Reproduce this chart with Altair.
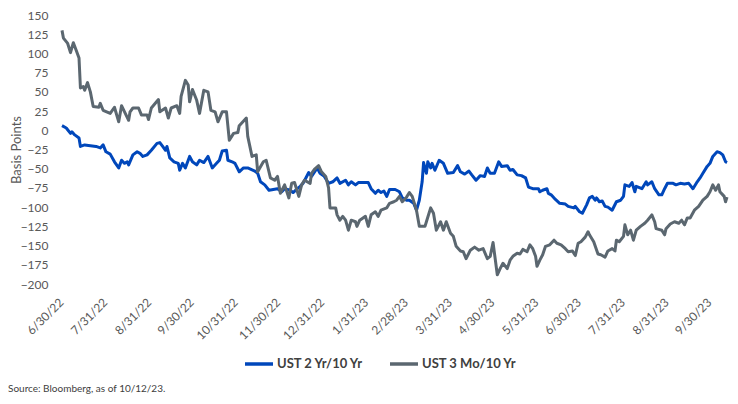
import altair as alt
import pandas as pd

# ---- data (days after 6/30/22, basis points) ----
start_date = "2022-06-30"
end_date = "2023-10-12"

days_2y10y = [0, 3, 6, 7, 9, 12, 13, 16, 20, 24, 27, 29, 31, 34, 37, 40, 42, 44, 46, 47,
              50, 53, 55, 57, 60, 63, 67, 69, 71, 73, 74, 76, 79, 82, 83, 85, 87, 90, 92, 95,
              97, 100, 103, 106, 109, 111, 113, 116, 117, 120, 122, 125, 128, 131, 136, 138, 140, 143, 146, 149,
              152, 155, 157, 161, 163, 166, 168, 170, 172, 174, 176, 180, 182, 185, 188, 191, 194, 196, 200, 202,
              204, 207, 209, 216, 218, 221, 223, 225, 227, 229, 231, 235, 238, 240, 243, 245, 248, 250, 252, 254,
              255, 257, 258, 260, 261, 263, 266, 269, 272, 276, 279, 281, 284, 287, 289, 292, 295, 298, 300, 302,
              305, 308, 310, 314, 316, 318, 321, 324, 327, 329, 332, 336, 337, 339, 342, 343, 345, 348, 351, 355,
              357, 361, 362, 365, 367, 370, 372, 374, 376, 377, 379, 381, 383, 385, 388, 391, 394, 396, 397, 400,
              402, 404, 405, 409, 412, 413, 416, 418, 421, 423, 425, 427, 431, 433, 436, 439, 442, 445, 448, 450,
              452, 455, 457, 459, 462, 464, 466, 468, 469]
bps_2y10y = [6, 3, -4, -2, -6, -10, -21, -19, -20, -21, -23, -19, -28, -31, -41, -49, -39, -43, -41, -45,
             -32, -28, -30, -34, -32, -26, -17, -16, -21, -26, -21, -36, -41, -43, -52, -43, -49, -34, -41, -45,
             -39, -42, -34, -49, -43, -39, -27, -26, -39, -41, -43, -54, -49, -49, -53, -56, -67, -71, -78, -77,
             -76, -80, -76, -78, -81, -76, -73, -69, -62, -55, -60, -49, -56, -60, -69, -67, -62, -69, -65, -71,
             -67, -71, -68, -68, -76, -82, -78, -81, -79, -86, -77, -77, -80, -88, -91, -91, -95, -104, -91, -67,
             -42, -56, -41, -49, -43, -52, -39, -43, -56, -55, -46, -54, -57, -53, -58, -65, -59, -60, -49, -56,
             -56, -41, -47, -46, -52, -51, -58, -59, -62, -74, -76, -76, -80, -78, -76, -82, -84, -90, -95, -96,
             -99, -101, -99, -106, -108, -97, -88, -86, -91, -88, -93, -92, -99, -100, -104, -93, -91, -86, -71, -73,
             -68, -80, -73, -76, -67, -71, -67, -76, -84, -84, -76, -69, -69, -71, -69, -70, -69, -76, -67, -62,
             -56, -47, -43, -34, -28, -29, -32, -41, -42]

days_3m10y = [0, 1, 4, 6, 8, 10, 12, 13, 15, 16, 18, 20, 22, 26, 27, 29, 34, 37, 40, 42,
              47, 48, 50, 54, 56, 60, 61, 63, 68, 69, 73, 75, 77, 81, 83, 84, 87, 89, 90, 92,
              95, 97, 100, 103, 105, 108, 110, 113, 116, 118, 121, 124, 125, 130, 131, 134, 137, 138, 142, 144,
              147, 150, 152, 154, 157, 160, 162, 164, 167, 169, 171, 175, 176, 178, 181, 183, 186, 188, 189, 193,
              194, 196, 198, 200, 202, 204, 207, 208, 210, 214, 216, 218, 221, 223, 225, 229, 231, 234, 236, 238,
              240, 243, 245, 247, 250, 252, 256, 257, 260, 262, 264, 267, 269, 271, 274, 276, 278, 281, 283, 285,
              288, 291, 294, 297, 300, 302, 304, 307, 309, 311, 314, 316, 318, 321, 323, 325, 328, 330, 332, 334,
              335, 337, 339, 341, 344, 347, 349, 352, 355, 357, 360, 362, 364, 366, 369, 371, 372, 375, 378, 380,
              383, 385, 388, 390, 391, 393, 396, 397, 399, 401, 403, 405, 408, 411, 413, 416, 418, 419, 423, 425,
              426, 429, 432, 435, 437, 439, 441, 443, 446, 449, 452, 455, 457, 459, 461, 463, 464, 467, 468, 469]
bps_3m10y = [130, 120, 113, 101, 114, 104, 94, 55, 57, 52, 62, 50, 31, 30, 35, 26, 22, 30, 11, 32,
             13, 24, 29, 29, 20, 20, 14, 29, 40, 24, 29, 16, 29, 32, 22, 44, 65, 59, 37, 53,
             39, 22, 52, 50, 26, 24, 11, 24, 24, -13, -4, -3, 6, 16, -8, -34, -32, -54, -41, -39,
             -62, -65, -60, -82, -71, -88, -69, -68, -86, -71, -65, -69, -56, -51, -46, -54, -60, -75, -101, -101,
             -110, -117, -112, -117, -130, -117, -119, -125, -117, -112, -125, -110, -106, -112, -104, -101, -95, -93, -91, -86,
             -93, -87, -81, -86, -104, -125, -125, -119, -101, -108, -130, -119, -130, -119, -134, -138, -151, -157, -158, -167,
             -156, -152, -156, -154, -167, -164, -146, -188, -180, -173, -180, -169, -164, -160, -161, -155, -158, -149, -154, -164,
             -177, -169, -162, -151, -149, -143, -147, -149, -154, -158, -157, -163, -147, -145, -139, -132, -136, -145, -161, -162,
             -165, -157, -154, -157, -143, -145, -138, -123, -136, -130, -143, -130, -125, -121, -117, -110, -119, -128, -130, -136,
             -128, -122, -119, -121, -117, -123, -114, -114, -104, -99, -91, -86, -80, -71, -78, -71, -80, -86, -93, -87]

series_names = ["UST 2 Yr/10 Yr", "UST 3 Mo/10 Yr"]
series_colors = ["#0047bb", "#5b6770"]

tick_dates = ["2022-06-30", "2022-07-31", "2022-08-31", "2022-09-30", "2022-10-31", "2022-11-30",
              "2022-12-31", "2023-01-31", "2023-02-28", "2023-03-31", "2023-04-30", "2023-05-31",
              "2023-06-30", "2023-07-31", "2023-08-31", "2023-09-30"]
y_ticks = [150, 125, 100, 75, 50, 25, 0, -25, -50, -75, -100, -125, -150, -175, -200]
source_note = "Source: Bloomberg, as of 10/12/23."

# ---- build table ----
start = pd.Timestamp(start_date)
rows = []
for name, days, vals in [(series_names[0], days_2y10y, bps_2y10y),
                         (series_names[1], days_3m10y, bps_3m10y)]:
    for d, v in zip(days, vals):
        rows.append({"date": (start + pd.Timedelta(days=d)).strftime("%Y-%m-%d"),
                     "bp": v, "series": name})
df = pd.DataFrame(rows)


def dt(s):
    return alt.DateTime(year=int(s[:4]), month=int(s[5:7]), date=int(s[8:10]), utc=True)


FONT = "Lato"
GRAY = "#595959"

chart = alt.Chart(df).mark_line(strokeWidth=3, strokeJoin="round").encode(
    x=alt.X("date:T",
            scale=alt.Scale(type="utc", domain=[dt(start_date), dt(end_date)]),
            axis=alt.Axis(values=[dt(s) for s in tick_dates],
                          labelExpr="utcFormat(datum.value, '%-m/%-d/%y')",
                          labelAngle=-45, labelAlign="right", labelBaseline="middle",
                          labelPadding=16, labelOffset=-1, labelOverlap=False,
                          ticks=False, domain=False, grid=False, title=None,
                          labelFont=FONT, labelFontSize=12, labelColor=GRAY)),
    y=alt.Y("bp:Q",
            scale=alt.Scale(domain=[-200, 150], nice=False, zero=False),
            axis=alt.Axis(values=y_ticks, title="Basis Points", grid=False, ticks=False,
                          domain=False, labelPadding=14, labelFont=FONT, labelFontSize=12,
                          labelColor=GRAY, titleFont=FONT, titleFontSize=13,
                          titleFontWeight="normal", titleColor=GRAY,
                          titleX=-46, titleY=134.5, titleAngle=270,
                          titleAlign="center", titleBaseline="middle")),
    color=alt.Color("series:N",
                    scale=alt.Scale(domain=series_names, range=series_colors),
                    legend=alt.Legend(title=None, orient="none", direction="horizontal",
                                      legendX=181, legendY=333,
                                      symbolType="stroke", symbolStrokeWidth=3.5,
                                      symbolSize=784, columnPadding=19, labelOffset=2,
                                      labelLimit=0, labelFont=FONT, labelFontSize=13,
                                      labelFontWeight="bold", labelColor="#404040")),
).properties(
    width=665, height=269,
    autosize=alt.AutoSizeParams(type="none"),
    padding={"left": 54, "top": 7, "right": 3, "bottom": 112},
    title=alt.Title(source_note, orient="bottom", anchor="start", frame="group",
                    dx=-54, offset=13, font=FONT, fontSize=10, fontWeight="normal",
                    color="#404040"),
).configure_view(stroke=None)

chart.save("out.html", embed_options={"renderer": "svg", "actions": False})
